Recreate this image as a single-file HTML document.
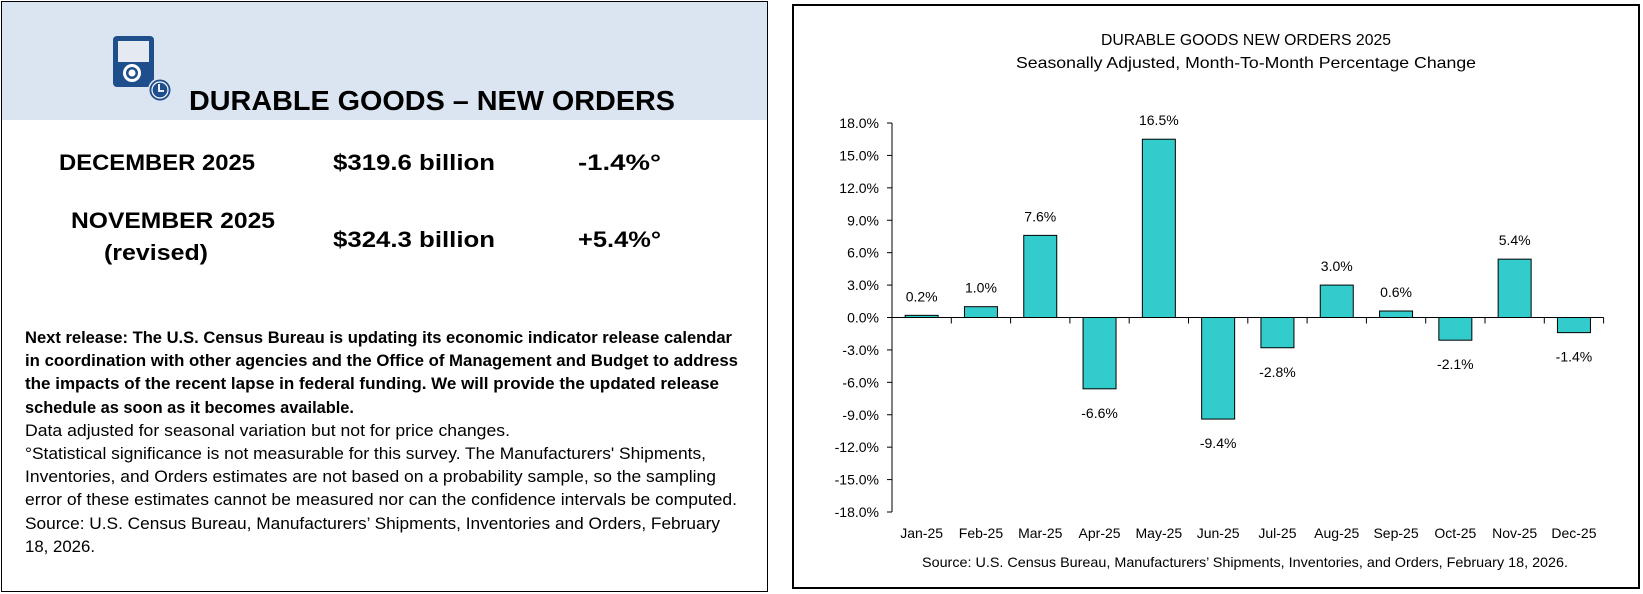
<!DOCTYPE html>
<html><head><meta charset="utf-8"><style>
html,body{margin:0;padding:0;background:#fff;}
svg{display:block;font-family:"Liberation Sans",sans-serif;}
</style></head><body>
<svg id="page" width="1643" height="594" viewBox="0 0 1643 594" xmlns="http://www.w3.org/2000/svg">
<g>
<rect x="1" y="1" width="767" height="119" fill="#dbe5f1"/>
<rect x="1.5" y="1.5" width="766" height="590" fill="none" stroke="#000" stroke-width="1"/>
<g>
<rect x="113" y="36" width="41" height="51" rx="4" fill="#1f4e8c"/>
<rect x="118" y="41" width="31" height="21" fill="#e4e9f2"/>
<circle cx="132" cy="73" r="9" fill="#fff"/><circle cx="132" cy="73" r="6" fill="#1f4e8c"/><circle cx="132" cy="73" r="3.5" fill="#fff"/>
<circle cx="160" cy="90" r="12" fill="#dbe5f1"/><circle cx="160" cy="90" r="10.5" fill="#1f4e8c"/><circle cx="160" cy="90" r="8" fill="none" stroke="#fff" stroke-width="1.2"/>
<path d="M159 84 V91 H164" stroke="#fff" stroke-width="1.8" fill="none"/>
</g>
<text x="189" y="110" font-size="28" font-weight="bold" textLength="486" lengthAdjust="spacingAndGlyphs">DURABLE GOODS – NEW ORDERS</text>
<g font-size="22" font-weight="bold">
<text x="59" y="170" textLength="196" lengthAdjust="spacingAndGlyphs">DECEMBER 2025</text>
<text x="333" y="170" textLength="162" lengthAdjust="spacingAndGlyphs">$319.6 billion</text>
<text x="578" y="170" textLength="83" lengthAdjust="spacingAndGlyphs">-1.4%°</text>
<text x="71" y="228" textLength="204" lengthAdjust="spacingAndGlyphs">NOVEMBER 2025</text>
<text x="104" y="260" textLength="104" lengthAdjust="spacingAndGlyphs">(revised)</text>
<text x="333" y="247" textLength="162" lengthAdjust="spacingAndGlyphs">$324.3 billion</text>
<text x="578" y="247" textLength="83" lengthAdjust="spacingAndGlyphs">+5.4%°</text>
</g>
<g font-size="17">
<text x="25" y="343" font-weight="bold" textLength="707" lengthAdjust="spacingAndGlyphs">Next release:  The U.S. Census Bureau is updating its economic indicator release calendar</text>
<text x="25" y="366" font-weight="bold" textLength="713" lengthAdjust="spacingAndGlyphs">in coordination with other agencies and the Office of Management and Budget to address</text>
<text x="25" y="389" font-weight="bold" textLength="694" lengthAdjust="spacingAndGlyphs">the impacts of the recent lapse in federal funding.  We will provide the updated release</text>
<text x="25" y="413" font-weight="bold" textLength="329" lengthAdjust="spacingAndGlyphs">schedule as soon as it becomes available.</text>
<text x="25" y="436" textLength="485" lengthAdjust="spacingAndGlyphs">Data adjusted for seasonal variation but not for price changes.</text>
<text x="25" y="459" textLength="681" lengthAdjust="spacingAndGlyphs">°Statistical significance is not measurable for this survey.  The Manufacturers' Shipments,</text>
<text x="25" y="482" textLength="691" lengthAdjust="spacingAndGlyphs">Inventories, and Orders estimates are not based on a probability sample, so the sampling</text>
<text x="25" y="505" textLength="712" lengthAdjust="spacingAndGlyphs">error of these estimates cannot be measured nor can the confidence intervals be computed.</text>
<text x="25" y="529" textLength="695" lengthAdjust="spacingAndGlyphs">Source: U.S. Census Bureau, Manufacturers’ Shipments, Inventories and Orders, February</text>
<text x="25" y="552" textLength="70" lengthAdjust="spacingAndGlyphs">18, 2026.</text>
</g>
</g>
<g>
<rect x="793" y="5" width="846" height="583" fill="#fff" stroke="#000" stroke-width="2"/>
<text x="1246" y="45" font-size="16" text-anchor="middle" textLength="290" lengthAdjust="spacingAndGlyphs">DURABLE GOODS NEW ORDERS 2025</text>
<text x="1246" y="68" font-size="16" text-anchor="middle" textLength="460" lengthAdjust="spacingAndGlyphs">Seasonally Adjusted,  Month-To-Month Percentage Change</text>
<g id="plot"></g>
<text x="922" y="567" font-size="14" textLength="646" lengthAdjust="spacingAndGlyphs">Source: U.S. Census Bureau, Manufacturers’ Shipments, Inventories, and Orders, February 18, 2026.</text>
</g>
</svg>
<script>
const categories = ["Jan-25","Feb-25","Mar-25","Apr-25","May-25","Jun-25","Jul-25","Aug-25","Sep-25","Oct-25","Nov-25","Dec-25"];
const values = [0.2,1.0,7.6,-6.6,16.5,-9.4,-2.8,3.0,0.6,-2.1,5.4,-1.4];
const yTicks = [18,15,12,9,6,3,0,-3,-6,-9,-12,-15,-18];
const yTickLabels = ["18.0%","15.0%","12.0%","9.0%","6.0%","3.0%","0.0%","-3.0%","-6.0%","-9.0%","-12.0%","-15.0%","-18.0%"];

const NS = "http://www.w3.org/2000/svg";
const plot = document.getElementById('plot');
const x0 = 892, catW = 59.3, yTop = 123, yBot = 512, vMax = 18, vMin = -18;
const yScale = v => yTop + (vMax - v) / (vMax - vMin) * (yBot - yTop);
const xCenter = i => x0 + (i + 0.5) * catW;
function mk(tag, attrs) { const e = document.createElementNS(NS, tag); for (const k in attrs) e.setAttribute(k, attrs[k]); plot.appendChild(e); return e; }

let ya = mk('line', {x1:x0, y1:yTop, x2:x0, y2:yBot, stroke:'#000', 'stroke-width':1});


yTicks.forEach((t, i) => {
  const y = yScale(t);
  const tk = mk('line', {x1:x0-5, y1:y, x2:x0, y2:y, stroke:'#000', 'stroke-width':1});
  
  
  const tl = mk('text', {x:x0-13, y:y+5, 'font-size':14, 'text-anchor':'end'});
  tl.textContent = yTickLabels[i];
  
  
});
values.forEach((v, i) => {
  const cx = xCenter(i), y0 = yScale(0), yv = yScale(v);
  const b = mk('rect', {x:cx-16.5, y:Math.min(y0,yv), width:33, height:Math.abs(yv-y0), fill:'#33cccc', stroke:'#000', 'stroke-width':1});
  
  
  const lbl = mk('text', {x:cx, y: v >= 0 ? yv - 14 : yv + 29, 'font-size':14, 'text-anchor':'middle'});
  lbl.textContent = v.toFixed(1) + '%';
  
  
  const xl = mk('text', {x:cx, y:538, 'font-size':14, 'text-anchor':'middle'});
  xl.textContent = categories[i];
  
  
});
const yz = yScale(0);
let xa = mk('line', {x1:x0, y1:yz, x2:x0+categories.length*catW, y2:yz, stroke:'#000', 'stroke-width':1});


for (let i = 1; i <= categories.length; i++) {
  const xt = x0 + i * catW;
  const t = mk('line', {x1:xt, y1:yz, x2:xt, y2:yz+6, stroke:'#000', 'stroke-width':1});
  
  
}
</script>
</body></html>
